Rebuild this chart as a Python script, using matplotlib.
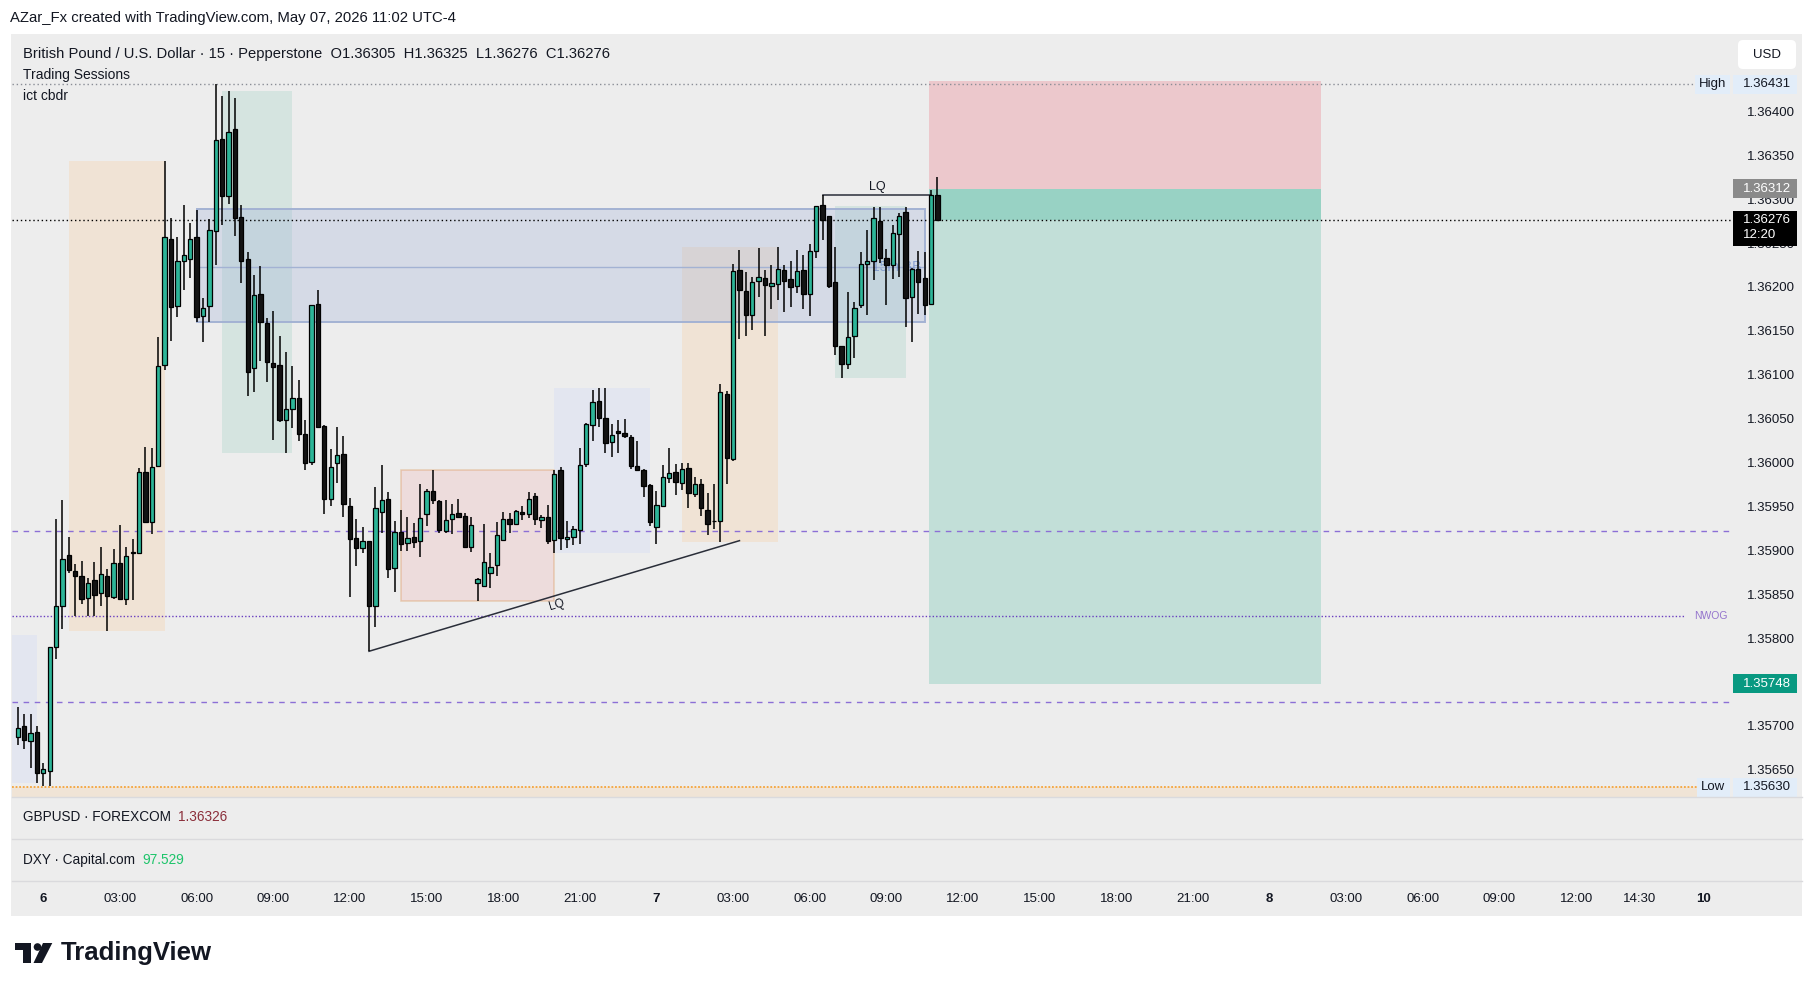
import numpy as np
import matplotlib
matplotlib.use('Agg')
import matplotlib.pyplot as plt
from matplotlib.patches import Rectangle, Circle, Polygon, FancyBboxPatch
from matplotlib.lines import Line2D
from matplotlib.transforms import blended_transform_factory

plt.rcParams['font.family'] = ['Liberation Sans', 'DejaVu Sans']

# GBPUSD 15m candles, 23:00 on the 5th -> 11:00 on the 7th (index 4 = 6th 00:00)
opens = [1.35687, 1.35700, 1.35683, 1.35693, 1.35646, 1.35649, 1.35790, 1.35836, 1.35895, 1.35877,
         1.35871, 1.35846, 1.35866, 1.35851, 1.35871, 1.35847, 1.35886, 1.35844, 1.35898, 1.35897,
         1.35989, 1.35932, 1.35996, 1.36111, 1.36255, 1.36178, 1.36229, 1.36232, 1.36257, 1.36167,
         1.36178, 1.36264, 1.36368, 1.36304, 1.36380, 1.36280, 1.36232, 1.36108, 1.36192, 1.36159,
         1.36113, 1.36111, 1.36049, 1.36061, 1.36073, 1.36033, 1.36001, 1.36181, 1.36042, 1.35958,
         1.35999, 1.36010, 1.35951, 1.35914, 1.35903, 1.35911, 1.35836, 1.35944, 1.35959, 1.35880,
         1.35921, 1.35908, 1.35915, 1.35911, 1.35941, 1.35968, 1.35956, 1.35922, 1.35936, 1.35943,
         1.35939, 1.35904, 1.35863, 1.35859, 1.35874, 1.35883, 1.35912, 1.35936, 1.35930, 1.35944,
         1.35941, 1.35962, 1.35935, 1.35938, 1.35912, 1.35992, 1.35913, 1.35915, 1.35923, 1.35998,
         1.36043, 1.36070, 1.36051, 1.36023, 1.36036, 1.36034, 1.36029, 1.35996, 1.35992, 1.35974,
         1.35927, 1.35951, 1.35982, 1.35989, 1.35977, 1.35994, 1.35964, 1.35975, 1.35946, 1.35933,
         1.35933, 1.36078, 1.36004, 1.36219, 1.36195, 1.36168, 1.36207, 1.36210, 1.36201, 1.36203,
         1.36219, 1.36209, 1.36201, 1.36219, 1.36192, 1.36241, 1.36293, 1.36281, 1.36206, 1.36133,
         1.36112, 1.36144, 1.36179, 1.36226, 1.36230, 1.36275, 1.36233, 1.36225, 1.36260, 1.36285,
         1.36188, 1.36221, 1.36210, 1.36181, 1.36305]
highs = [1.35721, 1.35713, 1.35713, 1.35700, 1.35658, 1.35790, 1.35936, 1.35957, 1.35915, 1.35884,
         1.35888, 1.35868, 1.35887, 1.35904, 1.35879, 1.35902, 1.35929, 1.35904, 1.35913, 1.35994,
         1.36018, 1.36016, 1.36143, 1.36343, 1.36278, 1.36257, 1.36293, 1.36273, 1.36288, 1.36187,
         1.36277, 1.36431, 1.36417, 1.36423, 1.36415, 1.36293, 1.36240, 1.36214, 1.36224, 1.36165,
         1.36173, 1.36144, 1.36126, 1.36110, 1.36094, 1.36049, 1.36180, 1.36196, 1.36043, 1.36015,
         1.36040, 1.36030, 1.35960, 1.35936, 1.35926, 1.35911, 1.35972, 1.35997, 1.35966, 1.35933,
         1.35946, 1.35938, 1.35931, 1.35976, 1.35970, 1.35992, 1.35957, 1.35957, 1.35953, 1.35958,
         1.35943, 1.35938, 1.35869, 1.35930, 1.35897, 1.35932, 1.35944, 1.35943, 1.35946, 1.35950,
         1.35966, 1.35965, 1.35940, 1.35952, 1.35992, 1.35995, 1.35933, 1.35928, 1.36017, 1.36045,
         1.36083, 1.36085, 1.36085, 1.36044, 1.36049, 1.36050, 1.36031, 1.36025, 1.35993, 1.35976,
         1.35967, 1.35997, 1.36016, 1.35998, 1.36000, 1.36000, 1.35984, 1.35981, 1.35965, 1.35976,
         1.36089, 1.36082, 1.36226, 1.36242, 1.36217, 1.36211, 1.36244, 1.36219, 1.36225, 1.36246,
         1.36225, 1.36230, 1.36242, 1.36236, 1.36249, 1.36292, 1.36305, 1.36281, 1.36245, 1.36133,
         1.36194, 1.36183, 1.36240, 1.36265, 1.36291, 1.36291, 1.36243, 1.36270, 1.36284, 1.36291,
         1.36222, 1.36241, 1.36240, 1.36310, 1.36325]
lows = [1.35678, 1.35674, 1.35652, 1.35635, 1.35631, 1.35632, 1.35776, 1.35810, 1.35874, 1.35825,
        1.35839, 1.35825, 1.35825, 1.35836, 1.35808, 1.35845, 1.35843, 1.35838, 1.35843, 1.35896,
        1.35932, 1.35919, 1.35995, 1.36105, 1.36139, 1.36166, 1.36197, 1.36210, 1.36160, 1.36137,
        1.36160, 1.36225, 1.36270, 1.36295, 1.36258, 1.36205, 1.36076, 1.36080, 1.36116, 1.36092,
        1.36026, 1.36046, 1.36011, 1.36039, 1.36024, 1.35991, 1.35997, 1.36040, 1.35941, 1.35951,
        1.35977, 1.35938, 1.35847, 1.35882, 1.35897, 1.35785, 1.35813, 1.35920, 1.35869, 1.35852,
        1.35899, 1.35899, 1.35903, 1.35892, 1.35928, 1.35953, 1.35920, 1.35920, 1.35919, 1.35937,
        1.35904, 1.35898, 1.35842, 1.35859, 1.35857, 1.35871, 1.35912, 1.35920, 1.35929, 1.35935,
        1.35937, 1.35929, 1.35925, 1.35907, 1.35897, 1.35900, 1.35903, 1.35906, 1.35907, 1.35995,
        1.36025, 1.36040, 1.36011, 1.36006, 1.36011, 1.36028, 1.35993, 1.35992, 1.35961, 1.35928,
        1.35907, 1.35951, 1.35977, 1.35963, 1.35969, 1.35948, 1.35961, 1.35939, 1.35917, 1.35924,
        1.35909, 1.35975, 1.36002, 1.36141, 1.36144, 1.36151, 1.36188, 1.36144, 1.36175, 1.36185,
        1.36172, 1.36177, 1.36193, 1.36175, 1.36167, 1.36233, 1.36254, 1.36199, 1.36123, 1.36096,
        1.36107, 1.36119, 1.36176, 1.36168, 1.36208, 1.36227, 1.36180, 1.36209, 1.36211, 1.36154,
        1.36137, 1.36169, 1.36168, 1.36179, 1.36276]
closes = [1.35698, 1.35684, 1.35692, 1.35646, 1.35651, 1.35790, 1.35836, 1.35890, 1.35878, 1.35871,
          1.35845, 1.35863, 1.35849, 1.35873, 1.35848, 1.35886, 1.35845, 1.35894, 1.35897, 1.35989,
          1.35932, 1.35995, 1.36110, 1.36257, 1.36177, 1.36230, 1.36236, 1.36255, 1.36166, 1.36176,
          1.36265, 1.36367, 1.36304, 1.36377, 1.36279, 1.36230, 1.36103, 1.36191, 1.36160, 1.36114,
          1.36109, 1.36048, 1.36061, 1.36073, 1.36032, 1.36000, 1.36180, 1.36040, 1.35958, 1.35995,
          1.36009, 1.35953, 1.35913, 1.35903, 1.35911, 1.35836, 1.35948, 1.35957, 1.35879, 1.35921,
          1.35907, 1.35914, 1.35909, 1.35937, 1.35967, 1.35957, 1.35923, 1.35935, 1.35941, 1.35938,
          1.35904, 1.35929, 1.35867, 1.35887, 1.35881, 1.35917, 1.35936, 1.35930, 1.35945, 1.35941,
          1.35959, 1.35936, 1.35938, 1.35911, 1.35987, 1.35914, 1.35915, 1.35924, 1.35997, 1.36044,
          1.36069, 1.36051, 1.36022, 1.36031, 1.36034, 1.36030, 1.35996, 1.35992, 1.35973, 1.35932,
          1.35952, 1.35984, 1.35988, 1.35978, 1.35993, 1.35965, 1.35975, 1.35948, 1.35930, 1.35933,
          1.36080, 1.36005, 1.36218, 1.36196, 1.36168, 1.36206, 1.36211, 1.36202, 1.36204, 1.36220,
          1.36207, 1.36200, 1.36218, 1.36192, 1.36241, 1.36292, 1.36276, 1.36201, 1.36133, 1.36112,
          1.36143, 1.36176, 1.36226, 1.36229, 1.36279, 1.36233, 1.36225, 1.36261, 1.36281, 1.36187,
          1.36221, 1.36206, 1.36180, 1.36305, 1.36276]

time_ticks = [4, 16, 28, 40, 52, 64, 76, 88, 100, 112, 124, 136, 148, 160, 172, 184,
              196, 208, 220, 232, 244, 254, 264]
time_labels = ['6', '03:00', '06:00', '09:00', '12:00', '15:00', '18:00', '21:00', '7',
               '03:00', '06:00', '09:00', '12:00', '15:00', '18:00', '21:00', '8',
               '03:00', '06:00', '09:00', '12:00', '14:30', '10']
day_labels = ['6', '7', '8', '10']

# trading session boxes (asia / london / ny am)
sess_start = [-1.5, 8, 32, 84, 104, 128]
sess_end = [3, 23, 43, 99, 119, 139]
sess_top = [1.35803, 1.36343, 1.36423, 1.36085, 1.36246, 1.36292]
sess_bottom = [1.35635, 1.35808, 1.36011, 1.35897, 1.35909, 1.36096]
sess_color = ['#CCD6F7', '#F7CFA0', '#A0D2C5', '#CCD6F7', '#F7CFA0', '#A0D2C5']

high_level = 1.36431
low_level = 1.35630
last_price = 1.36276
nwog_level = 1.35825
dash_levels = [1.35922, 1.35727]

bb_start, bb_end = 28, 142
bb_top, bb_mid, bb_bottom = 1.36289, 1.36223, 1.36160
liq_start, liq_end, liq_top, liq_bottom = 60, 84, 1.35992, 1.35842
trend_x = [55, 113]
trend_y = [1.35785, 1.35911]
lq_x = [126, 143]
lq_y = 1.36305

pos_start, pos_end = 142.6, 204.0
pos_stop, pos_entry, pos_target = 1.36435, 1.36312, 1.35748

W, H = 1815, 991
BG = '#EDEDED'
TXT = '#131722'
BULL = '#2DB598'


def fx(px):
    return px / W


def fy(py):
    return 1 - py / H


def ax_x(px):
    return (px - 12) / 1720


fig = plt.figure(figsize=(W / 100, H / 100), dpi=100)
fig.patch.set_facecolor('white')
fig.add_artist(Rectangle((fx(11), fy(916)), 1791 / W, 882 / H, transform=fig.transFigure,
                         facecolor=BG, edgecolor='none', zorder=-1))

ax = fig.add_axes([fx(12), fy(797), 1720 / W, 762 / H])
ax.set_facecolor(BG)
for s in ax.spines.values():
    s.set_visible(False)
ylo, yhi = 1.35619, 1.36487
ax.set_xlim(-0.9, 268.4)
ax.set_ylim(ylo, yhi)
dpp = (yhi - ylo) / 762
bl = blended_transform_factory(ax.transAxes, ax.transData)

ax.set_xticks([])
ax.yaxis.tick_right()
yt = np.arange(1.3565, 1.36401, 0.0005)
ax.set_yticks(yt)
# the 1.35750 label sits fully under the target tag
ax.set_yticklabels(['' if abs(v - 1.3575) < 1e-6 else '%.5f' % v for v in yt])
ax.tick_params(axis='y', length=0, pad=11, labelsize=9.5, labelcolor=TXT)

# session boxes
for s0, s1, t, b, col in zip(sess_start, sess_end, sess_top, sess_bottom, sess_color):
    ax.add_patch(Rectangle((s0, b), s1 - s0, t - b, facecolor=col, alpha=0.3,
                           edgecolor='none', zorder=1))

# 15m BB zone
ax.add_patch(Rectangle((bb_start, bb_bottom), bb_end - bb_start, bb_top - bb_bottom,
                       facecolor='#9FB0D8', alpha=0.3, edgecolor='none', zorder=1.2))
ax.add_patch(Rectangle((bb_start, bb_bottom), bb_end - bb_start, bb_top - bb_bottom,
                       facecolor='none', edgecolor='#A3B2D3', lw=1.4, zorder=1.3))
ax.plot([bb_start, bb_end], [bb_mid, bb_mid], color='#A3B2D3', lw=1, zorder=1.3)
ax.text(bb_end - 0.5, bb_mid, '15m BB', ha='right', va='center', fontsize=10,
        color='#5C7CC4', alpha=0.6, zorder=1.4)

# liquidity box
ax.add_patch(Rectangle((liq_start, liq_bottom), liq_end - liq_start, liq_top - liq_bottom,
                       facecolor='#EDBEBE', alpha=0.35, edgecolor='#D98C45', lw=1.1, zorder=1.5))

# position tool (short)
ax.add_patch(Rectangle((pos_start, pos_entry), pos_end - pos_start, pos_stop - pos_entry,
                       facecolor='#ECC8CC', edgecolor='none', zorder=1.6))
ax.add_patch(Rectangle((pos_start, pos_target), pos_end - pos_start, pos_entry - pos_target,
                       facecolor='#C2DFD8', edgecolor='none', zorder=1.6))
ax.add_patch(Rectangle((pos_start, last_price), pos_end - pos_start, pos_entry - last_price,
                       facecolor='#98D2C4', edgecolor='none', zorder=1.7))

# horizontal levels
ax.axhline(high_level, xmin=0, xmax=ax_x(1695), color='#8A8D96', lw=1, ls=(0, (1, 2)), zorder=2)
ax.axhline(last_price, xmin=0, xmax=1, color='black', lw=1, ls=(0, (1, 2)), zorder=2)
for lv in dash_levels:
    ax.axhline(lv, xmin=0, xmax=ax_x(1730), color='#8C6FD6', lw=1, ls=(0, (4, 4)), zorder=2)
ax.axhline(nwog_level, xmin=0, xmax=ax_x(1685), color='#6A3FC0', lw=1, ls=(0, (1, 1.5)), zorder=2)
ax.text(ax_x(1728), nwog_level, 'NWOG', transform=bl, ha='right', va='center',
        fontsize=7.5, color='#9575CD', zorder=2)
ax.axhspan(ylo, low_level, xmin=0, xmax=ax_x(1697), color='#F0E4D6', zorder=1, lw=0)
ax.axhline(low_level, xmin=0, xmax=ax_x(1697), color='#F5A43A', lw=1.3, ls=(0, (1, 1)), zorder=2)

# trend line + LQ marks
ax.plot(trend_x, trend_y, color='#2A2E39', lw=1.1, zorder=2.5)
ax.text(84.4, 1.35838, 'LQ', ha='center', va='center', rotation=16.6, fontsize=8.5,
        color=TXT, zorder=2.5)
ax.plot(lq_x, [lq_y, lq_y], color='#2A2E39', lw=1.1, zorder=2.5)
ax.text(134.6, lq_y + 2 * dpp, 'LQ', ha='center', va='bottom', fontsize=9, color=TXT, zorder=2.5)

# candles
x = np.arange(len(opens))
o = np.array(opens)
hi = np.array(highs)
lo = np.array(lows)
c = np.array(closes)
bull = c >= o
body_bot = np.minimum(o, c)
body_h = np.maximum(np.abs(c - o), 0.000004)
ax.vlines(x, lo, hi, color='black', lw=1.1, zorder=3)
ax.bar(x, body_h, bottom=body_bot, width=0.68, color=np.where(bull, BULL, '#131313'),
       edgecolor='black', linewidth=0.9, zorder=4)


# price-axis tags
def tag(price, text, face, fg, up=9.5, down=9.5, x0=1733, x1=1797):
    ax.add_patch(Rectangle((ax_x(x0), price - down * dpp), ax_x(x1) - ax_x(x0),
                           (up + down) * dpp, transform=bl, facecolor=face,
                           edgecolor='none', clip_on=False, zorder=8))
    ax.text(ax_x(1743), price, text, transform=bl, ha='left', va='center', fontsize=9.5,
            color=fg, zorder=9, clip_on=False)


tag(high_level, '1.36431', '#E2EDF9', TXT)
tag(pos_entry, '1.36312', '#8A8A8A', 'white')
tag(last_price, '1.36276', '#000000', 'white', up=9.5, down=25.5)
ax.text(ax_x(1743), last_price - 15 * dpp, '12:20', transform=bl, ha='left', va='center',
        fontsize=9.5, color='white', zorder=9, clip_on=False)
tag(pos_target, '1.35748', '#089981', 'white')
tag(low_level, '1.35630', '#E2EDF9', TXT)
for lv, name, x0 in [(high_level, 'High', 1695), (low_level, 'Low', 1697)]:
    ax.add_patch(Rectangle((ax_x(x0), lv - 9.5 * dpp), ax_x(1730) - ax_x(x0), 19 * dpp,
                           transform=bl, facecolor='#E2EDF9', edgecolor='none',
                           clip_on=False, zorder=8))
    ax.text((ax_x(x0) + ax_x(1730)) / 2, lv, name, transform=bl, ha='center', va='center',
            fontsize=9.5, color=TXT, zorder=9, clip_on=False)

# time axis
ax_t = fig.add_axes([fx(12), fy(916), 1720 / W, 35 / H])
ax_t.set_xlim(ax.get_xlim())
ax_t.set_ylim(0, 1)
ax_t.axis('off')
for pos, lab in zip(time_ticks, time_labels):
    ax_t.text(pos, 0.5, lab, ha='center', va='center', fontsize=9.5, color=TXT,
              fontweight='bold' if lab in day_labels else 'normal')

# pane separators
for py in [797, 839, 881]:
    fig.add_artist(Line2D([fx(12), fx(1802)], [fy(py), fy(py)], color='#DADADD', lw=1))

# header / legend texts
fig.text(fx(10), fy(18), 'AZar_Fx created with TradingView.com, May 07, 2026 11:02 UTC-4',
         fontsize=10.7, va='center', color=TXT)
fig.text(fx(23), fy(54), 'British Pound / U.S. Dollar · 15 · Pepperstone  O1.36305  H1.36325  L1.36276  C1.36276',
         fontsize=10.6, va='center', color=TXT)
fig.text(fx(23), fy(75), 'Trading Sessions', fontsize=10, va='center', color=TXT)
fig.text(fx(23), fy(96), 'ict cbdr', fontsize=10, va='center', color=TXT)

renderer = fig.canvas.get_renderer()
for py, name, val, vcol in [(817, 'GBPUSD · FOREXCOM', '1.36326', '#8B2E3A'),
                            (860, 'DXY · Capital.com', '97.529', '#1DC46A')]:
    t = fig.text(fx(23), fy(py), name, fontsize=9.8, va='center', color=TXT)
    right = t.get_window_extent(renderer=renderer).x1
    fig.text(right / W + fx(7), fy(py), val, fontsize=9.8, va='center', color=vcol)

# USD button
pt = fig.dpi_scale_trans
fig.add_artist(FancyBboxPatch((1738 / 100, (H - 69) / 100), 58 / 100, 29 / 100,
                              boxstyle='round,pad=0,rounding_size=0.05', transform=pt,
                              facecolor='white', edgecolor='none'))
fig.text(fx(1767), fy(54.5), 'USD', ha='center', va='center', fontsize=9.5, color=TXT)

# TradingView logo
logo = '#131722'
fig.add_artist(Polygon([(15 / 100, (H - 943) / 100), (31 / 100, (H - 943) / 100),
                        (31 / 100, (H - 963) / 100), (23 / 100, (H - 963) / 100),
                        (23 / 100, (H - 950) / 100), (15 / 100, (H - 950) / 100)],
                       closed=True, transform=pt, facecolor=logo, edgecolor='none'))
fig.add_artist(Circle((37.5 / 100, (H - 947) / 100), 3.8 / 100, transform=pt,
                      facecolor=logo, edgecolor='none'))
fig.add_artist(Polygon([(43 / 100, (H - 943) / 100), (52.3 / 100, (H - 943) / 100),
                        (42 / 100, (H - 963) / 100), (33.5 / 100, (H - 963) / 100)],
                       closed=True, transform=pt, facecolor=logo, edgecolor='none'))
fig.text(fx(61), fy(953), 'TradingView', fontsize=18.5, fontweight='bold', va='center',
         color=logo)

fig.savefig('out.png', dpi=100, facecolor='white')
